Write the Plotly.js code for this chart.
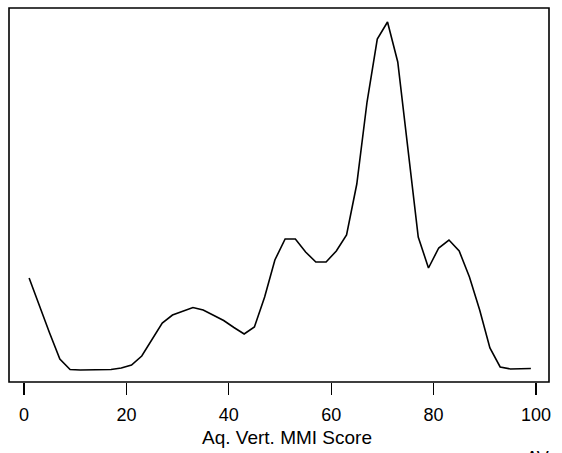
<!DOCTYPE html>
<html>
<head>
<meta charset="utf-8">
<script src="https://cdn.plot.ly/plotly-3.0.1.min.js"></script>
<style>html,body{margin:0;padding:0;background:#fff;}#chart{width:562px;height:453px;}</style>
</head>
<body>
<div id="chart"></div>
<script>
// Density of Aq. Vert. MMI Score
const scores = [1,3,5,7,9,11,13,15,17,19,21,23,25,27,29,31,33,35,37,39,41,43,45,47,49,
  51,53,55,57,59,61,63,65,67,69,71,73,75,77,79,81,83,85,87,89,91,93,95,97,99];
const density = [0.0093,0.0065,0.0038,0.0012,0.00015,0.0001,0.0001,0.0001,0.00015,0.0003,
  0.0006,0.0015,0.0031,0.0048,0.0056,0.0060,0.00635,0.0061,0.0056,0.00505,
  0.00435,0.0037,0.0044,0.0074,0.0111,0.0132,0.0132,0.0119,0.0109,0.0109,
  0.0120,0.0136,0.0187,0.0269,0.0332,0.0349,0.0309,0.0219,0.0134,0.0103,
  0.0123,0.0131,0.0120,0.0094,0.0061,0.0023,0.0004,0.0002,0.0002,0.00025];
const tickVals = [0,20,40,60,80,100];
const tickText = ['0','20','40','60','80','100'];
const xTitle = 'Aq. Vert. MMI Score';

const font = {family: 'Liberation Sans, Arial, sans-serif', color: '#000'};

Plotly.newPlot('chart', [{
  x: scores, y: density, type: 'scatter', mode: 'lines',
  line: {color: '#000', width: 1.6}, hoverinfo: 'skip'
}], {
  width: 562, height: 453,
  margin: {l: 9, r: 13, t: 8, b: 71},
  paper_bgcolor: '#fff', plot_bgcolor: '#fff',
  showlegend: false,
  xaxis: {
    range: [-2.93, 102.54], showgrid: false, zeroline: false,
    tickmode: 'array', tickvals: tickVals, ticktext: tickText,
    ticks: 'outside', ticklen: 12, tickwidth: 1.3, tickcolor: '#000',
    showline: false,
    tickfont: Object.assign({size: 18}, font),
    ticklabelstandoff: 4,
    title: {text: ''}
  },
  yaxis: {
    range: [-0.0011, 0.0363], showgrid: false, zeroline: false,
    showticklabels: false, ticks: '', showline: false
  },
  shapes: [{type: 'rect', xref: 'paper', yref: 'paper', x0: 0, x1: 1, y0: 0, y1: 1,
    line: {color: '#000', width: 1.6}}],
  annotations: [
    {text: xTitle, xref: 'paper', yref: 'paper', x: 0.515, y: -0.1497,
     xanchor: 'center', yanchor: 'middle', showarrow: false, font: Object.assign({size: 19}, font)},
    {text: 'AV', xref: 'paper', yref: 'paper', x: 0.954, y: -0.171,
     xanchor: 'left', yanchor: 'top', showarrow: false, font: Object.assign({size: 18}, font)}
  ]
}, {staticPlot: true});
</script>
</body>
</html>
